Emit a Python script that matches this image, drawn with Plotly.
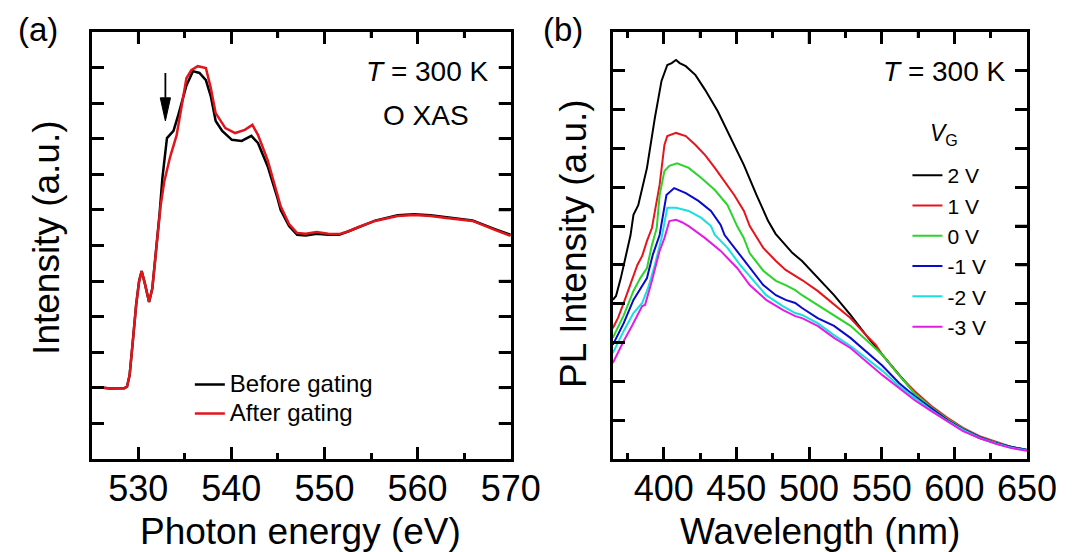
import plotly.graph_objects as go

# ---------------- Panel (a): O K-edge XAS ----------------
xas_before_energy = [525.0, 526.0, 527.0, 528.0, 528.5, 528.8, 529.08, 529.42, 529.78, 530.1, 530.37,
                     530.7, 531.17, 531.52, 532.04, 532.3, 532.6, 533.09, 533.79, 534.31, 535.18,
                     535.88, 536.58, 537.27, 537.79, 538.32, 539.02, 540.06, 541.11, 542.15, 542.86,
                     543.9, 544.95, 545.3, 546.2, 547.07, 548.0, 549.16, 550.4, 551.57, 552.6,
                     553.66, 555.44, 557.85, 559.62, 561.4, 563.08, 565.9, 568.3, 570.0]
xas_before_intensity = [2.0, 2.01, 1.98, 2.0, 1.99, 2.03, 2.36, 3.3, 4.33, 5.0, 5.28,
                        4.95, 4.41, 4.8, 6.1, 6.9, 7.9, 9.02, 9.22, 9.67, 10.5,
                        10.9, 10.85, 10.65, 10.2, 9.5, 9.22, 8.97, 8.94, 9.08, 8.88,
                        8.23, 7.34, 7.0, 6.55, 6.3, 6.28, 6.33, 6.3, 6.3, 6.4,
                        6.52, 6.7, 6.85, 6.88, 6.85, 6.79, 6.7, 6.46, 6.3]

xas_after_energy = [525.0, 526.0, 527.0, 528.0, 528.5, 528.8, 529.08, 529.42, 529.78, 530.1, 530.37,
                    530.7, 531.17, 531.52, 532.04, 532.4, 532.8, 533.44, 534.13, 534.65, 535.18,
                    535.7, 536.4, 537.27, 537.79, 538.32, 539.36, 540.41, 541.45, 542.26, 542.86,
                    543.9, 544.95, 545.3, 546.2, 547.07, 548.0, 549.16, 550.4, 551.57, 552.6,
                    553.66, 555.44, 557.85, 559.62, 561.4, 563.08, 565.9, 568.3, 570.0]
xas_after_intensity = [2.0, 2.01, 1.98, 2.0, 1.99, 2.03, 2.36, 3.3, 4.33, 5.0, 5.28,
                       4.95, 4.41, 4.8, 6.1, 7.1, 7.8, 8.5, 9.1, 9.95, 10.7,
                       10.93, 11.04, 10.99, 10.43, 9.72, 9.3, 9.16, 9.25, 9.39, 9.11,
                       8.4, 7.48, 7.1, 6.6, 6.35, 6.33, 6.38, 6.33, 6.32, 6.4,
                       6.52, 6.69, 6.83, 6.86, 6.83, 6.77, 6.69, 6.44, 6.27]

xas_labels = ["Before gating", "After gating"]
xas_colors = ["#000000", "#e0161c"]

# ---------------- Panel (b): PL spectra vs gate voltage ----------------
pl_labels = ["2 V", "1 V", "0 V", "-1 V", "-2 V", "-3 V"]
pl_colors = ["#000000", "#e8141c", "#2bd42b", "#0a0acc", "#17e0e0", "#e11ee1"]

pl_wl_2V = [365, 367.2, 370.5, 373.9, 377.2, 379.2, 382.5, 388.5, 393.9, 398.5, 402.5, 405.5, 408.5,
            411, 415.2, 421.9, 428.5, 437.2, 445.9, 455.2, 463.9, 471.9, 477, 483.9, 488.5, 495.2,
            505.9, 517.2, 528.5, 539.2, 550.5, 561.9, 572.5, 583.9, 595.2, 605.9, 617.2, 628.5,
            639.2, 650]
pl_int_2V = [4.1, 4.2, 4.66, 5.23, 5.77, 6.29, 6.54, 7.5, 8.78, 9.74, 10.15, 10.2, 10.28,
             10.2, 10.12, 9.89, 9.51, 8.96, 8.27, 7.57, 6.8, 6.13, 5.8, 5.51, 5.31, 5.1,
             4.66, 4.22, 3.71, 3.19, 2.68, 2.16, 1.7, 1.31, 1.0, 0.75, 0.54, 0.41,
             0.31, 0.23]

pl_wl_1V = [365, 368.5, 372.5, 377.2, 381.9, 385.2, 388.5, 391.9, 397.2, 400.5, 402.5, 408.5,
            415.2, 421.9, 428.5, 435.2, 441.9, 448.5, 455.2, 459.2, 468.5, 477.2, 483.9, 495.2,
            505.9, 517.2, 528.5, 539.2, 545.9, 550.5, 561.9, 572.5, 583.9, 595.2, 605.9, 617.2,
            628.5, 639.2, 650]
pl_int_1V = [3.37, 3.63, 4.02, 4.53, 5.0, 5.23, 5.62, 5.95, 7.06, 8.09, 8.32, 8.4,
             8.32, 8.09, 7.83, 7.5, 7.16, 6.8, 6.39, 6.0, 5.44, 5.1, 4.87, 4.61,
             4.33, 3.97, 3.63, 3.19, 2.94, 2.68, 2.16, 1.75, 1.37, 1.06, 0.8, 0.59,
             0.44, 0.31, 0.23]

pl_wl_0V = [365, 372.5, 379.2, 383.9, 388.5, 391.9, 395.2, 397.2, 400.5, 403.9, 409.2, 417.2,
            425.9, 435.2, 443.9, 450.5, 455.0, 459.2, 468.5, 477.2, 483.9, 490.5, 495.2, 505.9,
            517.2, 528.5, 539.2, 550.5, 561.9, 572.5, 583.9, 595.2, 605.9, 617.2, 628.5, 639.2,
            650]
pl_int_0V = [3.12, 3.7, 4.33, 4.66, 4.92, 5.51, 5.95, 6.8, 7.42, 7.55, 7.62, 7.5,
             7.24, 6.93, 6.54, 6.0, 5.7, 5.3, 4.85, 4.59, 4.48, 4.35, 4.22, 3.97,
             3.71, 3.43, 3.07, 2.68, 2.16, 1.7, 1.33, 1.03, 0.78, 0.57, 0.42, 0.31,
             0.23]

pl_wl_m1V = [365, 372.5, 379.2, 383.9, 388.5, 392.5, 397.2, 401.9, 407.2, 415.2, 423.9, 432.5,
             439.2, 441.9, 450.5, 459.2, 468.5, 477.2, 483.9, 490.5, 495.2, 505.9, 517.2, 528.5,
             539.2, 550.5, 561.9, 572.5, 583.9, 595.2, 605.9, 617.2, 628.5, 639.2, 650]
pl_int_m1V = [2.94, 3.5, 4.1, 4.4, 4.66, 5.26, 5.77, 6.8, 6.98, 6.85, 6.65, 6.39,
              6.03, 5.77, 5.36, 4.92, 4.48, 4.22, 4.1, 4.02, 3.89, 3.63, 3.43, 3.12,
              2.78, 2.4, 1.96, 1.62, 1.31, 1.0, 0.77, 0.57, 0.41, 0.31, 0.23]

pl_wl_m2V = [365, 372.5, 379.2, 385.2, 389.2, 393.9, 398.5, 402.5, 408.5, 417.2, 425.9, 432.5,
             435.2, 443.9, 452.5, 461.9, 470.5, 481.9, 490.5, 495.2, 505.9, 517.2, 528.5, 539.2,
             550.5, 561.9, 572.5, 583.9, 595.2, 605.9, 617.2, 628.5, 639.2, 650]
pl_int_m2V = [2.73, 3.3, 3.76, 4.02, 4.4, 5.0, 5.69, 6.47, 6.47, 6.39, 6.21, 6.0,
              5.77, 5.44, 5.0, 4.59, 4.22, 3.94, 3.76, 3.71, 3.5, 3.19, 2.91, 2.6,
              2.27, 1.88, 1.57, 1.26, 0.98, 0.75, 0.55, 0.4, 0.29, 0.22]

pl_wl_m3V = [365, 372.5, 378.5, 385.2, 387.2, 391.9, 397.2, 400.5, 403.9, 408.5, 412.5, 417.2,
             428.5, 439.2, 450.5, 459.2, 470.5, 481.9, 490.5, 495.2, 505.9, 517.2, 528.5, 539.2,
             550.5, 561.9, 572.5, 583.9, 595.2, 605.9, 617.2, 628.5, 639.2, 650]
pl_int_m3V = [2.47, 3.04, 3.45, 3.94, 3.97, 4.59, 5.36, 5.69, 6.13, 6.16, 6.1, 6.0,
              5.69, 5.36, 4.92, 4.48, 4.1, 3.84, 3.68, 3.63, 3.43, 3.12, 2.86, 2.52,
              2.16, 1.83, 1.52, 1.24, 0.98, 0.72, 0.54, 0.39, 0.28, 0.21]

pl_wavelengths = [pl_wl_2V, pl_wl_1V, pl_wl_0V, pl_wl_m1V, pl_wl_m2V, pl_wl_m3V]
pl_intensities = [pl_int_2V, pl_int_1V, pl_int_0V, pl_int_m1V, pl_int_m2V, pl_int_m3V]

# Axis ranges and tick values
XAS_RANGE = [525, 570]
XAS_YRANGE = [0, 12]
PL_RANGE = [365, 650]
PL_YRANGE = [0, 11]
xas_major_ticks = [530, 540, 550, 560]
xas_minor_ticks = [535, 545, 555, 565]
xas_y_ticks = [1, 2, 3, 4, 5, 6, 7, 8, 9, 10, 11]
pl_major_ticks = [400, 450, 500, 550, 600]
pl_minor_ticks = [375, 425, 475, 525, 575, 625]
pl_y_ticks = [1, 2, 3, 4, 5, 6, 7, 8, 9, 10]

# Arrow marking the pre-edge shoulder in (a)
ARROW_E = 532.92
ARROW_TOP = 10.85
ARROW_BASE = 10.15
ARROW_TIP = 9.5
ARROW_HALF = 0.55

# ---------------- Figure ----------------
W, H = 1086, 552
FONT = "Liberation Sans, Arial, sans-serif"
MAJOR_LEN, MINOR_LEN, TICK_W = 12, 6, 2.5


def px(x):
    return x / W


def py(y):
    return (H - y) / H


fig = go.Figure()

for lab, col, e, it in zip(xas_labels, xas_colors,
                           [xas_before_energy, xas_after_energy],
                           [xas_before_intensity, xas_after_intensity]):
    fig.add_trace(go.Scatter(x=e, y=it, mode="lines",
                             name=f'<span style="font-size:24px">{lab}</span>',
                             line=dict(color=col, width=2.5),
                             xaxis="x", yaxis="y", legend="legend"))

for lab, col, wl, it in zip(pl_labels, pl_colors, pl_wavelengths, pl_intensities):
    fig.add_trace(go.Scatter(x=wl, y=it, mode="lines", name=lab,
                             line=dict(color=col, width=2),
                             xaxis="x2", yaxis="y2", legend="legend2"))

frame = dict(showline=True, linecolor="black", linewidth=3, mirror="ticks",
             ticks="inside", tickcolor="black", tickwidth=TICK_W, ticklen=MAJOR_LEN,
             showgrid=False, zeroline=False)

ya = [py(451), py(24)]
minor_a = dict(dtick=5, tick0=525, ticks="inside", ticklen=MINOR_LEN, tickwidth=TICK_W,
               tickcolor="black")
minor_b = dict(dtick=25, tick0=375, ticks="inside", ticklen=MINOR_LEN, tickwidth=TICK_W,
               tickcolor="black")

fig.update_layout(
    width=W, height=H,
    margin=dict(l=0, r=0, t=0, b=0),
    paper_bgcolor="white", plot_bgcolor="white",
    font=dict(family=FONT, color="black"),
    xaxis=dict(domain=[px(86), px(517)], range=XAS_RANGE, tickvals=xas_major_ticks + [570],
               tickfont=dict(size=36), ticklabelstandoff=-4, minor=minor_a,
               anchor="y", **frame),
    yaxis=dict(domain=ya, range=XAS_YRANGE, dtick=1, showticklabels=False,
               anchor="x", **frame),
    xaxis2=dict(domain=[px(622), px(1048)], range=PL_RANGE, tickvals=pl_major_ticks + [650],
                tickfont=dict(size=36), ticklabelstandoff=-4, minor=minor_b,
                anchor="y2", **frame),
    yaxis2=dict(domain=ya, range=PL_YRANGE, dtick=1, showticklabels=False,
                anchor="x2", **frame),
    legend=dict(x=px(187), y=py(357), xanchor="left", yanchor="top",
                font=dict(size=20), bgcolor="rgba(0,0,0,0)", tracegroupgap=0,
                itemwidth=30),
    legend2=dict(x=px(925), y=py(147), xanchor="left", yanchor="top",
                 font=dict(size=21), bgcolor="rgba(0,0,0,0)", tracegroupgap=0,
                 itemwidth=30),
    showlegend=True,
)

# Inward ticks on the top and right frame edges (pixel-length segments anchored at the edge)
tick_line = dict(color="black", width=TICK_W)
for xr, yr, xrange_, yrange_, majors, minors, yticks in [
        ("x", "y", XAS_RANGE, XAS_YRANGE, xas_major_ticks, xas_minor_ticks, xas_y_ticks),
        ("x2", "y2", PL_RANGE, PL_YRANGE, pl_major_ticks, pl_minor_ticks, pl_y_ticks)]:
    for v, ln in [(m, MAJOR_LEN) for m in majors] + [(m, MINOR_LEN) for m in minors]:
        fig.add_shape(type="line", xref=xr, yref=yr, x0=v, x1=v,
                      ysizemode="pixel", yanchor=yrange_[1], y0=0, y1=-ln, line=tick_line)
    for v in yticks:
        fig.add_shape(type="line", xref=xr, yref=yr, y0=v, y1=v,
                      xsizemode="pixel", xanchor=xrange_[1], x0=0, x1=-MAJOR_LEN,
                      line=tick_line)

ann = []
ann.append(dict(text="(a)", x=px(8), y=py(22), xref="paper", yref="paper",
                xanchor="left", yanchor="middle", showarrow=False, font=dict(size=33)))
ann.append(dict(text="(b)", x=px(548), y=py(22), xref="paper", yref="paper",
                xanchor="left", yanchor="middle", showarrow=False, font=dict(size=33)))
ann.append(dict(text="<i>T</i> = 300 K", x=px(497), y=py(64), xref="paper", yref="paper",
                xanchor="right", yanchor="middle", showarrow=False, font=dict(size=28)))
ann.append(dict(text="O XAS", x=px(430), y=py(108), xref="paper", yref="paper",
                xanchor="center", yanchor="middle", showarrow=False, font=dict(size=28)))
ann.append(dict(text="<i>T</i> = 300 K", x=px(1028), y=py(64), xref="paper", yref="paper",
                xanchor="right", yanchor="middle", showarrow=False, font=dict(size=28)))
ann.append(dict(text="<i>V</i><sub>G</sub>", x=px(963), y=py(126), xref="paper", yref="paper",
                xanchor="center", yanchor="middle", showarrow=False, font=dict(size=23)))
ann.append(dict(text="Photon energy (eV)", x=px(301), y=py(523), xref="paper", yref="paper",
                xanchor="center", yanchor="middle", showarrow=False, font=dict(size=37)))
ann.append(dict(text="Wavelength (nm)", x=px(835), y=py(523), xref="paper", yref="paper",
                xanchor="center", yanchor="middle", showarrow=False, font=dict(size=37)))
ann.append(dict(text="Intensity (a.u.)", x=px(40), y=py(230), xref="paper", yref="paper",
                xanchor="center", yanchor="middle", textangle=-90, showarrow=False,
                font=dict(size=37)))
ann.append(dict(text="PL Intensity (a.u.)", x=px(581), y=py(235), xref="paper", yref="paper",
                xanchor="center", yanchor="middle", textangle=-90, showarrow=False,
                font=dict(size=37)))
fig.update_layout(annotations=ann)

fig.add_shape(type="line", xref="x", yref="y", x0=ARROW_E, x1=ARROW_E, y0=ARROW_TOP,
              y1=ARROW_BASE, line=dict(color="black", width=1.8))
fig.add_shape(type="path", xref="x", yref="y",
              path=f"M {ARROW_E - ARROW_HALF},{ARROW_BASE} L {ARROW_E + ARROW_HALF},{ARROW_BASE} "
                   f"L {ARROW_E},{ARROW_TIP} Z",
              fillcolor="black", line=dict(color="black", width=1))

fig.write_html("out.html")
